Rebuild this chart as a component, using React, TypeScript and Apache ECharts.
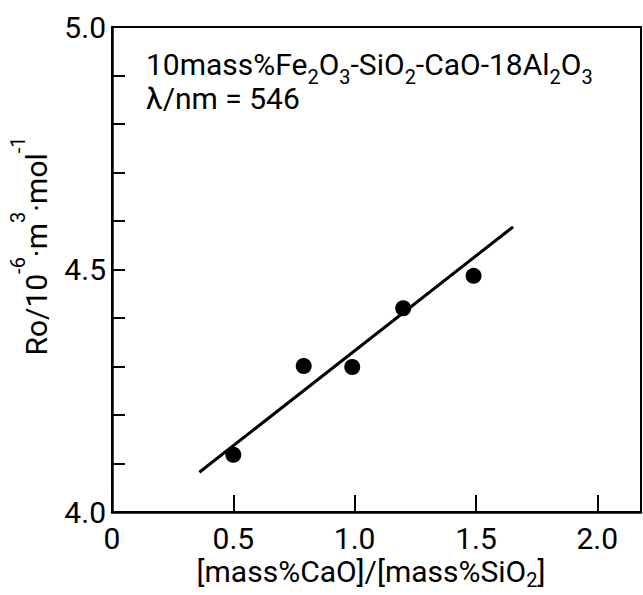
import React, { useEffect, useRef } from "react";
import * as echarts from "echarts";

const pointsX = [0.5, 0.79, 0.99, 1.2, 1.49];
const pointsY = [4.118, 4.301, 4.299, 4.42, 4.487];
const fitX = [0.36, 1.653];
const fitY = [4.082, 4.588];
const xMin = 0;
const xMax = 2.18;
const xStep = 0.5;
const yMin = 4.0;
const yMax = 5.0;
const yStep = 0.1;
const lambdaLine = "λ/nm = 546";

const FONT = "Roboto";

export default function App() {
  const ref = useRef<HTMLDivElement>(null);
  useEffect(() => {
    if (!ref.current) return;
    const chart = echarts.init(ref.current, null, { renderer: "svg" });
    const scatterData = pointsX.map((x, i) => [x, pointsY[i]]);
    const fitData = fitX.map((x, i) => [x, fitY[i]]);
    const main = { fontSize: 30, fontFamily: FONT, color: "#000", lineHeight: 34 };
    const mainX = { fontSize: 30, fontFamily: FONT, color: "#000", lineHeight: 24 };
    const sub = { fontSize: 20, fontFamily: FONT, color: "#000", lineHeight: 20, padding: [26, 0, 0, 0] };
    const subX = { fontSize: 20, fontFamily: FONT, color: "#000", lineHeight: 14, padding: [18, 0, 0, 0] };
    const sup = { fontSize: 20, fontFamily: FONT, color: "#000", lineHeight: 20, padding: [0, 0, 36, 0] };
    chart.setOption({
      animation: false,
      grid: {
        left: 112,
        right: 2,
        top: 27,
        bottom: 83,
        show: true,
        borderColor: "#000",
        borderWidth: 2,
      },
      xAxis: {
        type: "value",
        min: xMin,
        max: xMax,
        interval: xStep,
        axisLine: { lineStyle: { color: "#000", width: 2.5 } },
        axisTick: { inside: true, length: 17, lineStyle: { color: "#000", width: 2 } },
        splitLine: { show: false },
        axisLabel: {
          showMaxLabel: false,
          margin: 13,
          fontSize: 30,
          lineHeight: 26,
          fontFamily: FONT,
          color: "#000",
          formatter: (v: number) => (v === 0 ? "0" : v.toFixed(1)),
        },
      },
      yAxis: {
        type: "value",
        min: yMin,
        max: yMax,
        interval: yStep,
        axisLine: { lineStyle: { color: "#000", width: 2.5 } },
        axisTick: { inside: true, length: 13, lineStyle: { color: "#000", width: 2 } },
        splitLine: { show: false },
        axisLabel: {
          margin: 6,
          fontSize: 30,
          fontFamily: FONT,
          color: "#000",
          formatter: (v: number) =>
            Math.abs(v * 2 - Math.round(v * 2)) < 1e-6 ? v.toFixed(1) : "",
        },
      },
      graphic: [
        {
          type: "text",
          x: 146,
          y: 64,
          style: {
            text: "{m|10mass%Fe}{s|2}{m|O}{s|3}{m|-SiO}{s|2}{m|-CaO-18Al}{s|2}{m|O}{s|3}",
            rich: { m: main, s: sub },
            align: "left",
            verticalAlign: "middle",
          },
        },
        {
          type: "text",
          x: 146,
          y: 98,
          style: {
            text: lambdaLine,
            font: `30px ${FONT}`,
            fill: "#000",
            align: "left",
            verticalAlign: "middle",
          },
        },
        {
          type: "text",
          x: 36,
          y: 246,
          rotation: Math.PI / 2,
          style: {
            text: "{m|Ro/10}{p|-6}{m|·m}{p|3}{m|·mol}{p|-1}",
            rich: { m: main, p: sup },
            align: "center",
            verticalAlign: "middle",
          },
        },
        {
          type: "text",
          x: 371,
          y: 571,
          style: {
            text: "{m|[mass%CaO]/[mass%SiO}{s|2}{m|]}",
            rich: { m: mainX, s: subX },
            align: "center",
            verticalAlign: "middle",
          },
        },
      ],
      series: [
        {
          type: "line",
          data: fitData,
          showSymbol: false,
          symbol: "none",
          lineStyle: { color: "#000", width: 3 },
          z: 2,
        },
        {
          type: "scatter",
          data: scatterData,
          symbol: "circle",
          symbolSize: 16,
          itemStyle: { color: "#000", opacity: 1 },
          z: 3,
        },
      ],
    });
    return () => chart.dispose();
  }, []);
  return (
    <div
      ref={ref}
      style={{ position: "absolute", left: 0, top: 0, width: 643, height: 595, background: "#fff" }}
    />
  );
}
